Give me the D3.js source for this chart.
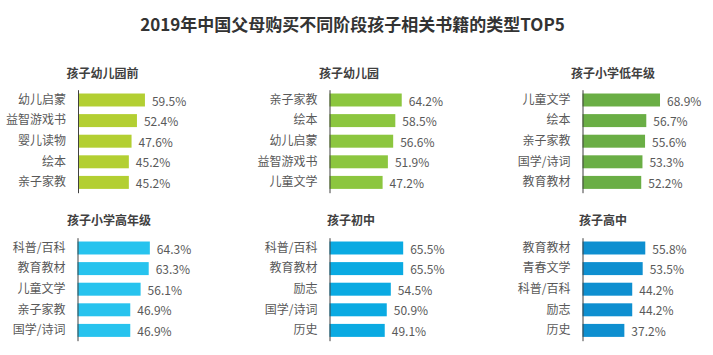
<!DOCTYPE html>
<html><head><meta charset="utf-8">
<script src="https://cdn.jsdelivr.net/npm/d3@7/dist/d3.min.js"></script>
<style>
body{margin:0;background:#fff;}
svg{display:block;font-family:"Noto Sans CJK SC","Noto Sans",sans-serif;}
</style></head>
<body><svg id="c" width="713" height="355"></svg>
<script>
const chartTitle = "2019年中国父母购买不同阶段孩子相关书籍的类型TOP5";
const panelTitles = ["孩子幼儿园前","孩子幼儿园","孩子小学低年级","孩子小学高年级","孩子初中","孩子高中"];
const cats1 = ["幼儿启蒙","益智游戏书","婴儿读物","绘本","亲子家教"];
const vals1 = [59.5,52.4,47.6,45.2,45.2];
const cats2 = ["亲子家教","绘本","幼儿启蒙","益智游戏书","儿童文学"];
const vals2 = [64.2,58.5,56.6,51.9,47.2];
const cats3 = ["儿童文学","绘本","亲子家教","国学/诗词","教育教材"];
const vals3 = [68.9,56.7,55.6,53.3,52.2];
const cats4 = ["科普/百科","教育教材","儿童文学","亲子家教","国学/诗词"];
const vals4 = [64.3,63.3,56.1,46.9,46.9];
const cats5 = ["科普/百科","教育教材","励志","国学/诗词","历史"];
const vals5 = [65.5,65.5,54.5,50.9,49.1];
const cats6 = ["教育教材","青春文学","科普/百科","励志","历史"];
const vals6 = [55.8,53.5,44.2,44.2,37.2];

const cats = [cats1,cats2,cats3,cats4,cats5,cats6];
const vals = [vals1,vals2,vals3,vals4,vals5,vals6];
const colors = ["#b3cf32","#8cc63f","#6aae45","#27c3ee","#0aaae2","#0e8fd0"];
// layout (not data)
const axisX = [78,329.5,582.5,77.5,329.5,582.5];
const titleX = [102.5,349,613,109,351,603];
const rowTop = [89.7,237.7];
const rowH = 103;
const titleY = [72,219];

const svg = d3.select("#c");
svg.append("text").attr("x",352.5).attr("y",23).attr("text-anchor","middle")
  .attr("dominant-baseline","central").attr("font-size",17).attr("font-weight","bold")
  .attr("fill","#333").text(chartTitle);

const x = d3.scaleLinear().domain([0,100]).range([0,112.5]);

for (let i=0;i<6;i++){
  const r = Math.floor(i/3);
  const g = svg.append("g");
  const y = d3.scaleBand().domain(cats[i]).range([rowTop[r],rowTop[r]+rowH])
     .paddingInner(0.37).paddingOuter(0.185);
  g.append("text").attr("x",titleX[i]).attr("y",titleY[r]).attr("text-anchor","middle")
   .attr("dominant-baseline","central").attr("font-size",12).attr("font-weight","bold")
   .attr("fill","#404040").text(panelTitles[i]);
  const data = cats[i].map((c,j)=>({c,v:vals[i][j]}));
  g.selectAll("rect").data(data).join("rect")
   .attr("x",axisX[i]).attr("y",d=>y(d.c)).attr("width",d=>x(d.v)).attr("height",y.bandwidth())
   .attr("fill",colors[i]);
  g.selectAll("text.v").data(data).join("text").attr("class","v")
   .attr("x",d=>axisX[i]+x(d.v)+7).attr("y",d=>y(d.c)+y.bandwidth()/2)
   .attr("dominant-baseline","central").attr("font-size",12).attr("fill","#595959")
   .text(d=>d.v.toFixed(1)+"%");
  const ax = d3.axisLeft(y).tickSize(0).tickPadding(12);
  const ag = g.append("g").attr("transform",`translate(${axisX[i]},0)`).call(ax);
  ag.select(".domain").attr("stroke","#404040");
  ag.selectAll("text").attr("font-size",12).attr("fill","#595959")
    .attr("font-family","'Noto Sans CJK SC',sans-serif");
}
</script></body></html>
